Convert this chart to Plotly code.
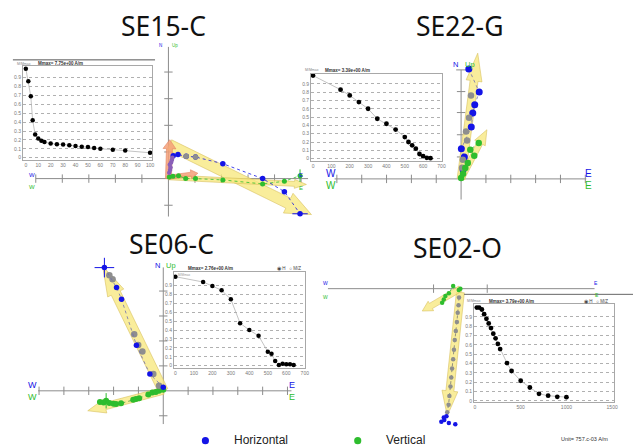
import math
import plotly.graph_objects as go

W, H = 637, 448

# ======================= DATA =======================
titles = ["SE15-C", "SE22-G", "SE06-C", "SE02-O"]
mmax_labels = ["Mmax= 7.75e+00 A/m", "Mmax= 3.39e+00 A/m",
               "Mmax= 2.76e+00 A/m", "Mmax= 3.79e+00 A/m"]
unit_label = "Unit= 757.c-03 A/m"
legend_names = ["Horizontal", "Vertical"]

# demagnetisation curves (step, M/Mmax)
se15_steps = [0, 2, 4, 5.5, 7.5, 10, 12.5, 15, 20, 25, 30, 35, 40, 45, 50, 55, 60, 70, 80, 100]
se15_mmax = [1.0, 0.86, 0.69, 0.42, 0.26, 0.215, 0.19, 0.175, 0.16, 0.15, 0.148, 0.14,
             0.13, 0.122, 0.12, 0.11, 0.10, 0.09, 0.08, 0.055]
se22_steps = [0, 150, 200, 250, 300, 350, 400, 450, 500, 520, 540, 560, 580, 600, 620, 640]
se22_mmax = [1.0, 0.83, 0.76, 0.68, 0.60, 0.48, 0.42, 0.35, 0.26, 0.20, 0.16, 0.12,
             0.056, 0.03, 0.01, 0.005]
se06_steps = [0, 150, 200, 250, 300, 350, 400, 450, 500, 520, 540, 560, 580, 600, 620, 640]
se06_mmax = [1.0, 0.94, 0.895, 0.847, 0.746, 0.478, 0.40, 0.336, 0.157, 0.134, 0.052,
             0.007, 0.022, 0.015, 0.015, 0.007]
se02_steps = [20, 45, 75, 100, 125, 150, 175, 200, 225, 250, 275, 350, 400, 500, 600,
              700, 800, 900, 1000]
se02_mmax = [1.0, 1.0, 0.98, 0.93, 0.88, 0.83, 0.78, 0.72, 0.67, 0.61, 0.555, 0.405,
             0.32, 0.215, 0.143, 0.075, 0.055, 0.043, 0.039]

x_ticks_15 = [0, 10, 20, 30, 40, 50, 60, 70, 80, 90, 100]
x_ticks_700 = [0, 100, 200, 300, 400, 500, 600, 700]
x_ticks_1500 = [0, 500, 1000, 1500]
y_ticks = [0, 0.1, 0.2, 0.3, 0.4, 0.5, 0.6, 0.7, 0.8, 0.9]

# Zijderveld projections (units = one axis tick)
se15_h_e = [0.18, 0.36, 0.67, 1.02, 2.05, 3.55, 4.37, 4.96]
se15_h_n = [0.86, 0.90, 0.84, 0.81, 0.56, 0.00, -0.49, -1.32]
se15_g_e = [0.67, 1.02]
se15_g_n = [0.84, 0.81]
se15_p_e = [0.03, 0.06, 0.08, 0.05, 0.10, 0.13, 0.15]
se15_p_n = [0.22, 0.32, 0.42, 0.52, 0.60, 0.70, 0.78]
se15_v_e = [0.03, 0.17, 0.38, 0.65, 1.02, 2.05, 3.55, 4.37, 4.96]
se15_v_u = [0.06, 0.09, 0.11, 0.00, 0.00, -0.05, -0.20, -0.10, 0.11]
se15_fit_h = [0.03, 1.27, 5.39, -1.35]      # tail e, tail n, tip e, tip n
se15_fit_v = [0.00, 0.05, 5.20, -0.22]
se15_pca_n = [0.00, 0.00, 0.05, 1.46]
se15_pca_e = [0.00, 0.05, 1.11, 0.20]

se22_h_e = [0.31, 0.73, 0.55, 0.47, 0.41, 0.01, 0.13, 0.08]
se22_h_n = [4.41, 3.48, 2.97, 2.64, 2.08, 1.21, 0.88, 0.37]
se22_g_e = [0.40, 0.32, 0.20, 0.24, 0.07, 0.04]
se22_g_n = [3.34, 2.45, 1.90, 1.54, 0.77, 0.45]
se22_v_e = [0.71, 0.37, 0.53, 0.27, 0.17, 0.08, 0.00]
se22_v_u = [1.44, 1.17, 0.93, 0.64, 0.44, 0.21, 0.04]
se22_fit_h = [0.00, 0.00, 0.67, 5.04]
se22_fit_v = [0.00, 0.00, 1.04, 1.97]

se06_h_e = [-2.37, -1.88, -1.68, -1.08, -0.54, 0.00]
se06_h_n = [4.94, 4.14, 3.67, 1.83, 0.67, 0.14]
se06_g_e = [-2.17, -2.04, -1.17, -1.01, -0.84, -0.40, -0.17]
se06_g_n = [4.63, 4.47, 2.27, 1.84, 1.58, 0.67, 0.20]
se06_v_e = [-2.55, -2.40, -2.30, -2.17, -2.00, -1.90, -1.70, -1.21, -1.10, -0.97,
            -0.60, -0.44, -0.30, -0.17, 0.00]
se06_v_u = [-0.45, -0.47, -0.40, -0.49, -0.52, -0.53, -0.50, -0.36, -0.33, -0.30,
            -0.15, -0.07, -0.05, 0.00, 0.04]
se06_fit_h = [0.00, 0.00, -2.44, 5.00]
se06_fit_v = [0.00, 0.00, -3.04, -0.80]

se02_g_e = [-0.05, -0.07, -0.10, -0.13, -0.17, -0.21, -0.24, -0.27, -0.31, -0.34,
            -0.37, -0.41, -0.44, -0.49]
se02_g_n = [-0.33, -0.62, -0.89, -1.24, -1.57, -1.91, -2.27, -2.62, -2.96, -3.30,
            -3.63, -3.98, -4.31, -4.59]
se02_h_e = [-0.52, -0.62, -0.71, -0.60, -0.43, -0.19]
se02_h_n = [-4.74, -4.78, -4.94, -4.88, -4.99, -5.03]
se02_v_e = [0.00, -0.06, -0.27, -0.43, -0.56, -0.62, -0.68]
se02_v_u = [0.00, -0.05, 0.10, -0.17, -0.27, -0.40, -0.52]
se02_fit_h = [0.00, -0.14, -0.49, -4.72]
se02_fit_v = [0.00, 0.00, -1.42, -0.83]

# ======================= STYLE =======================
BLUE = "#1414e6"
GREEN = "#2ebd2e"
GREY = "#8e8e8e"
PURPLE = "#8a5fb8"
AXC = "#8c8c8c"
YEL_FILL = "rgba(248,233,130,0.80)"
YEL_LINE = "rgba(214,190,90,0.95)"
ORA_FILL = "rgba(244,160,120,0.85)"
ORA_LINE = "rgba(225,130,95,0.95)"
SMALL = "Liberation Sans, Arial, sans-serif"
TITLEF = "Noto Sans, DejaVu Sans, sans-serif"

fig = go.Figure()
layout_axes = {}
annotations = []
shapes = []
counter = {"n": 0}


def add_axes(box, xr, yr, xopt=None, yopt=None):
    counter["n"] += 1
    n = counter["n"]
    sfx = "" if n == 1 else str(n)
    px0, px1, py0, py1 = box
    xa = dict(domain=[px0 / W, px1 / W], range=xr, anchor="y" + sfx, fixedrange=True,
              showgrid=False, zeroline=False, showticklabels=False, showline=False, ticks="")
    ya = dict(domain=[1 - py1 / H, 1 - py0 / H], range=yr, anchor="x" + sfx, fixedrange=True,
              showgrid=False, zeroline=False, showticklabels=False, showline=False, ticks="")
    if xopt:
        xa.update(xopt)
    if yopt:
        ya.update(yopt)
    layout_axes["xaxis" + sfx] = xa
    layout_axes["yaxis" + sfx] = ya
    return "x" + sfx, "y" + sfx


def txt(s, px, py, size, color="#000", xanchor="left", family=SMALL):
    annotations.append(dict(text=s, x=px / W, y=1 - py / H, xref="paper", yref="paper",
                            showarrow=False, xanchor=xanchor, yanchor="middle", borderpad=0,
                            font=dict(size=size, color=color, family=family)))


def pline(x0, y0, x1, y1, color, width):
    shapes.append(dict(type="line", xref="paper", yref="paper", x0=x0 / W, x1=x1 / W,
                       y0=1 - y0 / H, y1=1 - y1 / H, line=dict(color=color, width=width)))


def arrow(ax, fit, s, shaft, hw, hl, fill, line):
    x0, y0, x1, y1 = fit
    dx, dy = x1 - x0, y1 - y0
    L = math.hypot(dx, dy)
    ux, uy = dx / L, dy / L
    nx, ny = -uy, ux
    sh, hwu, hlu = shaft / 2 / s, hw / 2 / s, min(hl / s, 0.9 * L)
    bx, by = x1 - ux * hlu, y1 - uy * hlu
    pts = [(x0 + nx * sh, y0 + ny * sh), (bx + nx * sh, by + ny * sh),
           (bx + nx * hwu, by + ny * hwu), (x1, y1), (bx - nx * hwu, by - ny * hwu),
           (bx - nx * sh, by - ny * sh), (x0 - nx * sh, y0 - ny * sh)]
    pts.append(pts[0])
    fig.add_trace(go.Scatter(x=[p[0] for p in pts], y=[p[1] for p in pts], mode="lines",
                             fill="toself", fillcolor=fill, line=dict(color=line, width=0.6),
                             xaxis=ax[0], yaxis=ax[1], hoverinfo="skip"))


def pts(ax, xs, ys, color, size, dotted=True, lcolor=None):
    fig.add_trace(go.Scatter(x=xs, y=ys, mode="lines+markers" if dotted else "markers",
                             line=dict(color=lcolor or color, width=0.8, dash="dot"),
                             marker=dict(color=color, size=size, line=dict(width=0)),
                             xaxis=ax[0], yaxis=ax[1], hoverinfo="skip"))


def mark(ax, xs, ys, color, symbol, size):
    fig.add_trace(go.Scatter(x=xs, y=ys, mode="markers",
                             marker=dict(symbol=symbol, size=size, color=color,
                                         line=dict(color=color, width=1)),
                             xaxis=ax[0], yaxis=ax[1], hoverinfo="skip"))


def zij(box, origin, s, hline, vline, hticks, vticks):
    ox, oy = origin
    px0, px1, py0, py1 = box
    ax = add_axes(box, [(px0 - ox) / s, (px1 - ox) / s], [(oy - py1) / s, (oy - py0) / s])
    fig.add_trace(go.Scatter(x=[(hline[0] - ox) / s, (hline[1] - ox) / s], y=[0, 0],
                             mode="lines", line=dict(color=AXC, width=1),
                             xaxis=ax[0], yaxis=ax[1], hoverinfo="skip"))
    if vline:
        fig.add_trace(go.Scatter(x=[0, 0], y=[(oy - vline[0]) / s, (oy - vline[1]) / s],
                                 mode="lines", line=dict(color=AXC, width=1),
                                 xaxis=ax[0], yaxis=ax[1], hoverinfo="skip"))
    if hticks:
        mark(ax, hticks, [0] * len(hticks), AXC, "line-ns-open", 6)
    if vticks:
        mark(ax, [0] * len(vticks), vticks, AXC, "line-ew-open", 6)
    return ax


def demag(box, x0px, xs, y0px, ys, xt, steps, vals, msize):
    px0, px1, py0, py1 = box
    tf = dict(size=5, color="#7a7a7a", family=SMALL)
    xopt = dict(showline=True, mirror=True, linecolor="#a8a8a8", linewidth=0.8,
                showticklabels=True, tickvals=xt, ticktext=[str(v) for v in xt], tickfont=tf)
    yopt = dict(showline=True, mirror=True, linecolor="#a8a8a8", linewidth=0.8,
                showticklabels=True, tickvals=y_ticks, ticktext=[("%g" % v) for v in y_ticks],
                tickfont=tf, showgrid=True, gridcolor="#b0b0b0", griddash="dot", gridwidth=0.7)
    ax = add_axes(box, [(px0 - x0px) / xs, (px1 - x0px) / xs],
                  [(y0px - py1) / ys, (y0px - py0) / ys], xopt, yopt)
    fig.add_trace(go.Scatter(x=steps, y=vals, mode="lines+markers",
                             line=dict(color="#b4b4b4", width=0.8),
                             marker=dict(color="#000", size=msize), cliponaxis=False,
                             xaxis=ax[0], yaxis=ax[1], hoverinfo="skip"))
    return ax


# ======================= SE15-C =======================
s15 = 26.7
a = zij((30, 320, 36, 222), (169.5, 179), s15, (36, 310), (47, 217),
        [-5, -4, -3, -2, -1, 1, 2, 3, 4, 5], [-1, 1, 2, 3, 4])
arrow(a, se15_fit_h, s15, 11, 22, 26, YEL_FILL, YEL_LINE)
arrow(a, se15_fit_v, s15, 5, 9, 12, YEL_FILL, YEL_LINE)
arrow(a, se15_pca_n, s15, 6, 13, 9, ORA_FILL, ORA_LINE)
arrow(a, se15_pca_e, s15, 4, 9, 7, ORA_FILL, ORA_LINE)
pts(a, se15_v_e, se15_v_u, GREEN, 5)
pts(a, se15_h_e, se15_h_n, BLUE, 5.5)
pts(a, se15_p_e, se15_p_n, PURPLE, 4.5, dotted=False)
pts(a, se15_g_e, se15_g_n, GREY, 5.5, dotted=False)
mark(a, se15_h_e[-1:], se15_h_n[-1:], BLUE, "line-ew-open", 11)
mark(a, se15_v_e[-1:], se15_v_u[-1:], GREEN, "line-ns-open", 9)
txt("W", 32, 175, 6, BLUE, "center")
txt("W", 32, 187, 6, GREEN, "center")
txt("E", 303, 175, 6, BLUE, "center")
txt("E", 303, 188, 6, GREEN, "center")
txt("N", 162, 46, 4.5, BLUE, "center")
txt("Up", 176, 46, 4.5, GREEN, "center")

demag((23, 153, 66, 160), 26, 1.25, 158, 89, x_ticks_15, se15_steps, se15_mmax, 4.5)
pline(13, 60, 156, 60, "#555", 1)
txt("M/Mmax", 16, 64, 3.5, "#888")
txt("<b>" + mmax_labels[0] + "</b>", 37, 64, 4.5, "#333")

# ======================= SE22-G =======================
s22 = 25
a = zij((325, 600, 40, 205), (464, 179.3), s22, (336.7, 590), (70, 200),
        [-5, -4, -3, -2, -1, 1, 2, 3, 4, 5], [0.88, 1.77, 2.66, 3.5])
mark(a, [0.14], [4.37], AXC, "line-ew-open", 12)
arrow(a, se22_fit_h, s22, 8, 16, 28, YEL_FILL, YEL_LINE)
arrow(a, se22_fit_v, s22, 6, 12, 15, YEL_FILL, YEL_LINE)
pts(a, se22_h_e, se22_h_n, BLUE, 7, lcolor="#6f6fb0")
pts(a, se22_g_e, se22_g_n, GREY, 6.5, dotted=False)
pts(a, se22_v_e, se22_v_u, GREEN, 6.5, lcolor="#3c9a3c")
txt("W", 333, 174, 10, BLUE, "center")
txt("W", 333, 186, 10, GREEN, "center")
txt("E", 592, 174, 10, BLUE, "center")
txt("E", 592, 186, 10, GREEN, "center")
txt("N", 458, 65, 7.5, BLUE, "center")
txt("Up", 473, 65, 7.5, GREEN, "center")

demag((313, 445, 74, 161), 315, 0.1847, 159, 83.3, x_ticks_700, se22_steps, se22_mmax, 4.8)
txt("M/Mmax", 306, 70.5, 3.5, "#888")
txt("<b>" + mmax_labels[1] + "</b>", 326, 70.5, 4.5, "#333")

# ======================= SE06-C =======================
s06 = 25
a = zij((25, 310, 255, 430), (164.3, 391.7), s06, (38.3, 293.3), (268, 425),
        [-5, -4, -3, -2, -1, 1, 2, 3, 4, 5], [-1, 1, 2, 3, 4])
arrow(a, se06_fit_h, s06, 10, 18, 30, YEL_FILL, YEL_LINE)
arrow(a, se06_fit_v, s06, 7, 14, 18, YEL_FILL, YEL_LINE)
pts(a, se06_v_e, se06_v_u, GREEN, 6, lcolor="#3c9a3c")
pts(a, se06_g_e, se06_g_n, GREY, 6.5, dotted=False)
pts(a, se06_h_e, se06_h_n, BLUE, 5.5, lcolor="#6f6fb0")
mark(a, se06_h_e[:1], se06_h_n[:1], BLUE, "cross-thin-open", 14)
mark(a, se06_v_e[2:3], se06_v_u[2:3], GREEN, "line-ns-open", 11)
txt("W", 33, 386, 9, BLUE, "center")
txt("W", 33, 398.3, 9, GREEN, "center")
txt("E", 294, 386, 9, BLUE, "center")
txt("E", 294, 398.3, 9, GREEN, "center")
txt("N", 158, 266.5, 7.5, BLUE, "center")
txt("Up", 172, 266.5, 7.5, GREEN, "center")

demag((175, 307, 273, 368.5), 176.5, 0.186, 366.5, 89.2, x_ticks_700, se06_steps, se06_mmax, 4.5)
txt("M/Mmax", 178, 275.5, 3.2, "#999")
txt("<b>" + mmax_labels[2] + "</b>", 188, 269.5, 4.5, "#333")
txt("◉ H   ○ M/Z", 278, 269.5, 4.5, "#444")

# ======================= SE02-O =======================
s02 = 27
a = zij((320, 610, 270, 440), (463.3, 289.3), s02, (330, 598.3), None, [-1, 1], [])
arrow(a, se02_fit_h, s02, 8, 16, 25, YEL_FILL, YEL_LINE)
arrow(a, se02_fit_v, s02, 6, 11, 10, YEL_FILL, YEL_LINE)
pts(a, se02_g_e, se02_g_n, GREY, 4.5, lcolor="#777")
pts(a, se02_h_e, se02_h_n, BLUE, 4.5, dotted=False)
pts(a, se02_v_e, se02_v_u, GREEN, 4.5, lcolor=GREEN)
txt("W", 327.3, 283.3, 5, BLUE, "center")
txt("W", 327.3, 297.3, 5, GREEN, "center")
txt("E", 600, 283.3, 5, BLUE, "center")
txt("E", 601, 296, 5, GREEN, "center")

demag((477, 618, 305, 403), 478, 0.092, 401.7, 93.4, x_ticks_1500, se02_steps, se02_mmax, 4.8)
pline(467, 295, 637, 295, "#666", 1)
txt("M/Mmax", 469, 301.7, 3.5, "#888")
txt("<b>" + mmax_labels[3] + "</b>", 491, 301.7, 4.5, "#333")
txt("◉ H   ○ M/Z", 587, 301.7, 4.5, "#444")

# ======================= titles & legend =======================
txt(titles[0], 165, 26, 26.5, "#111", "center", TITLEF)
txt(titles[1], 462, 26, 26.5, "#111", "center", TITLEF)
txt(titles[2], 173, 244.5, 26.5, "#111", "center", TITLEF)
txt(titles[3], 460, 249, 26.5, "#111", "center", TITLEF)

for cx, col in ((206.7, BLUE), (360, GREEN)):
    shapes.append(dict(type="circle", xref="paper", yref="paper",
                       x0=(cx - 3.6) / W, x1=(cx + 3.6) / W,
                       y0=1 - (441.7 + 3.6) / H, y1=1 - (441.7 - 3.6) / H,
                       fillcolor=col, line=dict(width=0)))
txt(legend_names[0], 234, 441, 12, "#222")
txt(legend_names[1], 387, 441, 12, "#222")
txt(unit_label, 564, 440, 5.5, "#333")

fig.update_layout(width=W, height=H, autosize=False, margin=dict(l=0, r=0, t=0, b=0),
                  paper_bgcolor="white", plot_bgcolor="rgba(0,0,0,0)", showlegend=False,
                  annotations=annotations, shapes=shapes, **layout_axes)
fig.write_html("out.html", config={"displayModeBar": False},
               post_script="document.body.style.margin='0';")
